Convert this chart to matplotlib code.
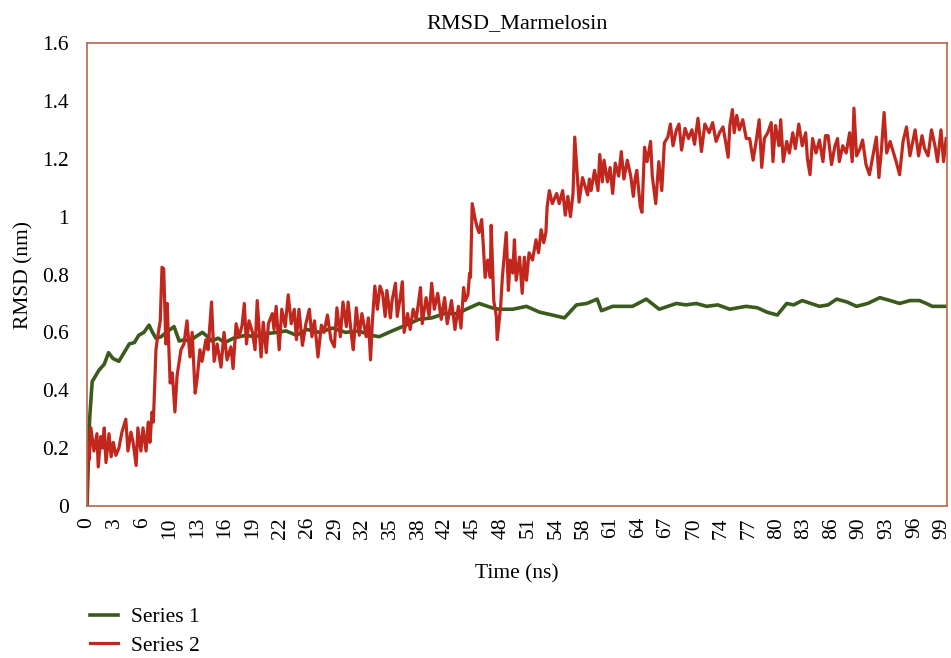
import matplotlib
matplotlib.use("Agg")
import matplotlib.pyplot as plt
import numpy as np

plt.rcParams["font.family"] = ["Liberation Serif", "DejaVu Serif"]

TITLE = "RMSD_Marmelosin"
X_LABEL = "Time (ns)"
Y_LABEL = "RMSD (nm)"
SERIES_NAMES = ["Series 1", "Series 2"]
TICK_LABELS = ["0", "3", "6", "10", "13", "16", "19", "22", "26", "29", "32",
               "35", "38", "42", "45", "48", "51", "54", "58", "61", "64", "67",
               "70", "74", "77", "80", "83", "86", "90", "93", "96", "99"]

# series 1 (green)
t1 = [0, 0.3, 0.6, 1.0, 1.4, 2.0, 2.5, 3.0, 3.7, 4.3, 4.9, 5.5, 6.0, 6.6, 7.2,
      7.6, 8.0, 8.6, 9.2, 10.1, 10.7, 11.3, 11.9, 12.6, 13.4, 14.0, 14.5, 15.2,
      16.0, 17.0, 18.4, 19.5, 20.7, 22.0, 23.1, 24.3, 25.5, 27.0, 28.5, 30.0,
      31.5, 33.0, 33.9, 35.4, 37.0, 38.5, 40.0, 41.5, 43.0, 44.0, 45.5, 47.0,
      47.8, 49.4, 51.0, 52.5, 54.0, 55.4, 56.8, 58.0, 59.2, 59.7, 61.0, 62.2,
      63.3, 64.9, 66.4, 67.4, 68.4, 69.5, 70.7, 71.9, 73.2, 74.6, 75.5, 76.5,
      77.8, 78.9, 79.5, 80.1, 81.2, 82.0, 83.0, 84.0, 85.0, 86.0, 87.0, 88.2,
      89.3, 90.6, 92.0, 93.2, 94.3, 95.5, 96.6, 97.4, 98.1, 99.6]
rmsd1 = [0.0, 0.30, 0.43, 0.45, 0.47, 0.49, 0.53, 0.51, 0.50, 0.53, 0.56, 0.565,
         0.59, 0.60, 0.625, 0.60, 0.58, 0.585, 0.60, 0.62, 0.57, 0.575, 0.57,
         0.585, 0.60, 0.585, 0.57, 0.58, 0.565, 0.58, 0.59, 0.585, 0.595, 0.60,
         0.605, 0.59, 0.61, 0.60, 0.615, 0.60, 0.605, 0.59, 0.585, 0.605, 0.625,
         0.645, 0.65, 0.665, 0.665, 0.68, 0.70, 0.685, 0.68, 0.68, 0.69, 0.67,
         0.66, 0.65, 0.695, 0.70, 0.715, 0.675, 0.69, 0.69, 0.69, 0.715, 0.68,
         0.69, 0.70, 0.695, 0.70, 0.69, 0.695, 0.68, 0.685, 0.69, 0.685, 0.67,
         0.665, 0.66, 0.70, 0.695, 0.71, 0.70, 0.69, 0.695, 0.715, 0.705, 0.69,
         0.70, 0.72, 0.71, 0.70, 0.71, 0.71, 0.70, 0.69, 0.69]

# series 2 (red)
t2 = [0, 0.1, 0.25, 0.45, 0.8, 1.15, 1.3, 1.6, 1.8, 2.0, 2.2, 2.55, 2.8, 3.05,
      3.35, 3.7, 4.05, 4.5, 4.75, 5.1, 5.35, 5.7, 5.9, 6.25, 6.5, 6.85, 7.1,
      7.3, 7.55, 7.7, 8.0, 8.15, 8.5, 8.7, 8.9, 9.15, 9.3, 9.65, 9.9, 10.2,
      10.45, 10.9, 11.25, 11.6, 11.95, 12.2, 12.55, 12.8, 13.1, 13.35, 13.8,
      14.05, 14.45, 14.75, 15.1, 15.55, 15.9, 16.25, 16.7, 16.95, 17.3, 17.65,
      18.0, 18.25, 18.5, 18.8, 19.2, 19.5, 19.75, 20.2, 20.45, 20.8, 21.05,
      21.5, 21.7, 21.95, 22.3, 22.6, 23.0, 23.35, 23.7, 24.05, 24.3, 24.6,
      25.0, 25.4, 25.8, 26.1, 26.4, 26.8, 27.2, 27.5, 27.9, 28.3, 28.7, 29.0,
      29.4, 29.7, 30.1, 30.3, 30.7, 30.9, 31.25, 31.6, 31.9, 32.4, 32.65, 32.9,
      33.1, 33.4, 33.7, 34.0, 34.3, 34.6, 34.8, 35.2, 35.4, 35.8, 36.0, 36.35,
      36.6, 36.8, 37.2, 37.5, 37.85, 38.2, 38.7, 38.9, 39.35, 39.7, 40.0, 40.3,
      40.7, 41.1, 41.5, 41.8, 42.3, 42.7, 43.1, 43.4, 43.7, 43.9, 44.2, 44.4,
      44.5, 44.7, 45.05, 45.3, 45.5, 45.8, 46.0, 46.2, 46.5, 46.8, 46.9, 47.2,
      47.5, 47.6, 48.0, 48.2, 48.4, 48.65, 48.9, 49.1, 49.4, 49.6, 49.8, 50.2,
      50.5, 50.75, 51.0, 51.3, 51.7, 52.1, 52.4, 52.7, 53.0, 53.25, 53.4,
      53.65, 54.0, 54.5, 54.8, 55.2, 55.5, 55.8, 56.1, 56.4, 56.6, 57.1, 57.5,
      57.7, 58.1, 58.3, 58.5, 58.9, 59.3, 59.5, 59.8, 60.0, 60.4, 60.7, 61.0,
      61.3, 61.7, 62.0, 62.3, 62.7, 63.1, 63.4, 63.6, 63.8, 64.2, 64.4, 64.7,
      65.0, 65.4, 65.6, 66.0, 66.35, 66.7, 67.0, 67.4, 67.7, 68.0, 68.4, 68.7,
      69.0, 69.4, 69.8, 70.2, 70.5, 70.9, 71.3, 71.7, 72.2, 72.6, 73.0, 73.4,
      73.8, 74.1, 74.4, 74.6, 74.9, 75.1, 75.4, 75.7, 76.1, 76.5, 76.9, 77.3,
      77.7, 78.0, 78.3, 78.6, 79.0, 79.4, 79.6, 79.9, 80.3, 80.5, 80.8, 81.2,
      81.5, 81.9, 82.2, 82.6, 83.0, 83.4, 83.6, 83.9, 84.2, 84.6, 85.0, 85.4,
      85.7, 86.0, 86.4, 86.8, 87.1, 87.3, 87.7, 88.1, 88.5, 88.8, 89.0, 89.3,
      89.7, 90.0, 90.4, 90.8, 91.2, 91.6, 91.9, 92.2, 92.5, 92.8, 93.2, 93.5,
      93.9, 94.3, 94.7, 95.1, 95.5, 95.9, 96.1, 96.5, 96.9, 97.2, 97.6, 98.0,
      98.4, 98.7, 99.1, 99.4, 99.7]
rmsd2 = [0.01, 0.22, 0.16, 0.27, 0.19, 0.25, 0.135, 0.24, 0.20, 0.27, 0.15,
         0.25, 0.17, 0.22, 0.175, 0.20, 0.255, 0.30, 0.19, 0.255, 0.22, 0.14,
         0.27, 0.19, 0.27, 0.19, 0.29, 0.22, 0.325, 0.29, 0.54, 0.575, 0.64,
         0.825, 0.82, 0.56, 0.70, 0.425, 0.46, 0.325, 0.45, 0.54, 0.56, 0.64,
         0.515, 0.60, 0.39, 0.445, 0.54, 0.50, 0.575, 0.54, 0.705, 0.50, 0.56,
         0.48, 0.60, 0.505, 0.55, 0.475, 0.63, 0.585, 0.625, 0.70, 0.56, 0.64,
         0.60, 0.54, 0.71, 0.515, 0.635, 0.53, 0.63, 0.665, 0.61, 0.69, 0.54,
         0.68, 0.62, 0.73, 0.63, 0.68, 0.575, 0.68, 0.555, 0.63, 0.68, 0.585,
         0.64, 0.515, 0.625, 0.60, 0.66, 0.575, 0.55, 0.685, 0.585, 0.705, 0.62,
         0.705, 0.585, 0.54, 0.685, 0.59, 0.665, 0.585, 0.65, 0.505, 0.63, 0.76,
         0.68, 0.76, 0.735, 0.655, 0.745, 0.65, 0.71, 0.77, 0.655, 0.72, 0.775,
         0.60, 0.665, 0.61, 0.68, 0.645, 0.755, 0.63, 0.72, 0.655, 0.77, 0.68,
         0.735, 0.645, 0.72, 0.63, 0.71, 0.61, 0.69, 0.615, 0.755, 0.71, 0.73,
         0.805, 0.79, 1.045, 0.99, 0.96, 0.945, 0.99, 0.895, 0.79, 0.85, 0.79,
         0.97, 0.71, 0.655, 0.575, 0.69, 0.79, 0.86, 0.945, 0.745, 0.85, 0.805,
         0.92, 0.78, 0.86, 0.735, 0.86, 0.78, 0.875, 0.85, 0.92, 0.875, 0.955,
         0.91, 0.945, 1.035, 1.09, 1.045, 1.08, 1.045, 1.09, 1.005, 1.07, 1.0,
         1.08, 1.275, 1.05, 1.135, 1.115, 1.075, 1.13, 1.09, 1.16, 1.09, 1.215,
         1.12, 1.195, 1.12, 1.17, 1.08, 1.185, 1.14, 1.225, 1.13, 1.195, 1.14,
         1.07, 1.13, 1.16, 1.035, 1.015, 1.24, 1.19, 1.26, 1.14, 1.045, 1.19,
         1.09, 1.255, 1.275, 1.32, 1.245, 1.30, 1.32, 1.23, 1.305, 1.27, 1.30,
         1.25, 1.34, 1.225, 1.32, 1.29, 1.325, 1.26, 1.29, 1.31, 1.26, 1.205,
         1.315, 1.37, 1.29, 1.35, 1.30, 1.335, 1.27, 1.27, 1.195, 1.27, 1.335,
         1.17, 1.27, 1.29, 1.325, 1.19, 1.315, 1.245, 1.335, 1.19, 1.26, 1.22,
         1.29, 1.235, 1.32, 1.245, 1.29, 1.20, 1.145, 1.27, 1.22, 1.265, 1.19,
         1.28, 1.28, 1.18, 1.245, 1.27, 1.19, 1.245, 1.22, 1.29, 1.19, 1.375,
         1.21, 1.235, 1.265, 1.18, 1.145, 1.21, 1.275, 1.135, 1.235, 1.36, 1.22,
         1.26, 1.23, 1.19, 1.145, 1.26, 1.31, 1.21, 1.27, 1.30, 1.21, 1.28,
         1.235, 1.21, 1.30, 1.245, 1.19, 1.30, 1.19, 1.27]

GREEN = "#3b5a1e"
RED = "#c1271d"
FRAME = "#b3684a"
FS = 15.5

fig = plt.figure(figsize=(9.51, 6.58), dpi=100)
ax = fig.add_axes([0.0915, 0.231, 0.9043, 0.7036])

ax.plot(t1, rmsd1, color=GREEN, lw=2.6, label=SERIES_NAMES[0])
ax.plot(t2, rmsd2, color=RED, lw=2.3, label=SERIES_NAMES[1])

ax.set_xlim(0, 99.8)
ax.set_ylim(0, 1.6)
ax.set_yticks(np.arange(0, 1.61, 0.2))
ax.set_yticklabels(["0", "0.2", "0.4", "0.6", "0.8", "1", "1.2", "1.4", "1.6"])
ax.set_xticks(np.arange(len(TICK_LABELS)) * 3.2)
ax.set_xticklabels(TICK_LABELS, rotation=90)
ax.tick_params(axis="both", length=0, labelsize=FS)
ax.tick_params(axis="y", pad=13)
ax.tick_params(axis="x", pad=8)

for sp in ax.spines.values():
    sp.set_color(FRAME)
    sp.set_linewidth(1.2)

ax.set_title(TITLE, fontsize=16, pad=11)
ax.set_xlabel(X_LABEL, fontsize=FS, labelpad=18)
ax.set_ylabel(Y_LABEL, fontsize=FS, labelpad=6)

fig.legend(loc="lower left", bbox_to_anchor=(0.074, -0.026), frameon=False,
           fontsize=FS, handlelength=1.3, handletextpad=0.6, labelspacing=0.38)

fig.savefig("out.png", dpi=100)
